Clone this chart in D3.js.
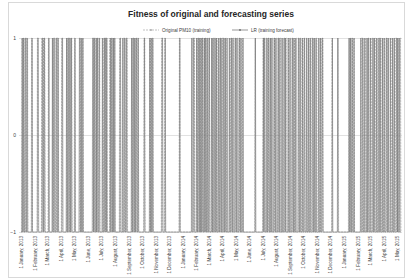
<!DOCTYPE html>
<html>
<head>
<meta charset="utf-8">
<style>
  body { margin: 0; background: #fff; }
  svg { display: block; font-family: "Liberation Sans", Arial, sans-serif; }
</style>
</head>
<body>
<svg width="406" height="280"></svg>
<script src="https://cdn.jsdelivr.net/npm/d3@7/dist/d3.min.js"></script>
<script>
    // first day of the training series, number of daily points
    var startDate = new Date(2013, 0, 1),
        nDays = 860;

    // periods where the class is +1, as [first day, day it drops back] (day 0 = 1 Jan 2013)
    var origHigh = [
        [2,3],[5,7],[9,10],[13,16],[24,26],[37,39],[47,49],[51,52],[53,55],[62,64],[72,73],[75,77],[79,80],[82,85],
        [92,94],[104,105],[107,109],[111,112],[113,116],[121,123],[133,135],[137,138],[139,141],
        [163,165],[166,167],[169,171],[173,174],[176,179],[185,187],[189,190],[192,195],[201,202],[204,206],
        [208,209],[210,213],[223,225],[231,233],[235,236],[238,241],[251,252],[254,256],[258,259],[261,263],
        [264,266],[278,281],[292,293],[295,296],[297,299],
        [318,320],[325,327],[358,360],
        [387,389],[391,393],[398,399],[401,403],[405,406],[408,410],[411,412],[414,416],[418,419],[422,424],
        [426,427],[432,433],[435,437],[439,440],[443,444],[446,448],[451,452],[455,457],[459,460],[463,465],
        [472,474],[476,477],[480,482],[485,486],[489,491],[494,495],[498,499],[501,502],
        [529,530],
        [547,549],[551,552],[555,557],[560,561],[563,564],[568,570],[573,574],[577,579],[582,583],[586,588],
        [591,592],[594,595],[599,601],[605,606],[609,611],[614,615],[618,619],[622,624],[628,629],[632,634],
        [637,638],[641,642],[645,647],[651,652],[655,657],[660,661],[664,665],[668,670],[674,675],[678,680],[682,683],
        [703,704],[717,718],[741,742],[744,746],[749,750],[752,754],
        [769,771],[773,774],[778,780],[783,784],[786,787],[791,793],[796,797],[800,802],[805,806],[808,809],
        [813,815],[818,819],[822,824],[827,828],[831,832],[836,838],[841,842],[845,847],[850,851],[853,854],[857,859]
    ];
    var lrHigh = [
        [3,4],[6,7],[10,12],[14,15],[25,26],[38,40],[48,50],[52,54],[63,64],[71,72],[74,76],[80,82],[84,85],
        [93,95],[103,104],[106,108],[110,112],[114,115],[122,123],[132,134],[136,137],[140,141],
        [162,164],[165,167],[170,171],[172,174],[177,178],[184,185],[188,190],[191,193],[194,195],[202,203],
        [205,207],[209,210],[212,213],[224,226],[230,231],[234,236],[239,240],[250,251],[253,255],[257,258],
        [260,262],[265,266],[279,280],[291,292],[294,295],[298,299],
        [319,321],[326,327],[359,360],
        [386,387],[390,392],[397,398],[400,402],[404,405],[407,408],[410,412],[415,416],[417,419],[421,422],
        [425,427],[431,432],[434,435],[438,440],[442,443],[447,448],[450,452],[454,455],[458,460],[462,463],
        [466,467],[471,472],[475,477],[479,480],[484,486],[488,489],[493,495],[497,498],[502,503],
        [530,531],
        [548,549],[550,552],[556,557],[559,561],[564,565],[567,568],[572,574],[576,577],[581,583],[585,586],
        [590,591],[595,597],[598,599],[604,605],[608,609],[613,615],[617,618],[621,622],[627,629],[631,632],
        [636,637],[640,642],[646,647],[650,651],[654,655],[659,661],[663,664],[667,668],[673,674],[677,678],[681,683],
        [704,705],[716,717],[742,743],[745,746],[748,750],[753,754],
        [768,769],[772,774],[777,778],[782,783],[785,787],[790,791],[795,797],[799,800],[804,805],[809,811],
        [812,813],[817,818],[821,822],[826,828],[830,831],[835,836],[840,841],[844,845],[849,851],[852,853],[856,857]
    ];

    // month labels along the axis
    var tickMonths = [
        "2013-01","2013-02","2013-03","2013-04","2013-05","2013-06","2013-07","2013-08","2013-09","2013-10",
        "2013-11","2013-12","2014-01","2014-02","2014-03","2014-04","2014-05","2014-06","2014-07","2014-08",
        "2014-09","2014-10","2014-11","2014-12","2015-01","2015-02","2015-03","2015-04","2015-05"
    ];
    var yTicks = [1, 0, -1];
    var seriesNames = ["Original PM10 (training)", "LR (training forecast)"];
    var seriesColors = ["#a6a6a6", "#6a6a6a"];

    var svg = d3.select("svg"),
        width = +svg.attr("width"),
        height = +svg.attr("height");

    var plotL = 21, plotR = 401, plotT = 38, plotB = 232;

    function expand(highs) {
        var vals = [];
        for (var i = 0; i < nDays; i++) vals.push(-1);
        highs.forEach(function(h) {
            for (var d = h[0]; d < h[1]; d++) vals[d] = 1;
        });
        return vals.map(function(v, i) {
            return [d3.timeDay.offset(startDate, i), v];
        });
    }

    var orig = expand(origHigh),
        lr = expand(lrHigh);

    var x = d3.scaleTime()
        .domain([startDate, d3.timeDay.offset(startDate, nDays - 1)])
        .range([plotL, plotR]);
    var y = d3.scaleLinear().domain([-1, 1]).range([plotB, plotT]);

    // chart border
    svg.append("rect")
        .attr("x", 8.5).attr("y", 2.5)
        .attr("width", 396).attr("height", 275)
        .attr("fill", "none").attr("stroke", "#d9d9d9");

    svg.append("text")
        .attr("x", 211).attr("y", 17)
        .attr("text-anchor", "middle")
        .style("font-size", "8.5px").style("font-weight", "bold")
        .attr("fill", "#262626")
        .text("Fitness of original and forecasting series");

    // gridlines
    svg.append("g").selectAll("line").data(yTicks).enter().append("line")
        .attr("x1", plotL - 2).attr("x2", plotR + 1)
        .attr("y1", function(d) { return y(d) + 0.5; })
        .attr("y2", function(d) { return y(d) + 0.5; })
        .attr("stroke", "#d9d9d9").attr("stroke-width", 0.8);

    var yAxis = svg.append("g")
        .attr("transform", "translate(" + (plotL - 3) + ",0)")
        .call(d3.axisLeft(y).tickValues(yTicks).tickSize(0).tickPadding(2).tickFormat(d3.format("d")));
    yAxis.select(".domain").remove();
    yAxis.selectAll("text").style("font-size", "5px").attr("fill", "#404040");

    var line = d3.line()
        .x(function(d) { return x(d[0]); })
        .y(function(d) { return y(d[1]); });

    svg.append("path")
        .attr("d", line(orig))
        .attr("fill", "none")
        .attr("stroke", seriesColors[0])
        .attr("stroke-width", 0.6)
        .attr("stroke-dasharray", "2,1");

    svg.append("path")
        .attr("d", line(lr))
        .attr("fill", "none")
        .attr("stroke", seriesColors[1])
        .attr("stroke-width", 0.5);

    // x axis labels
    var parseMonth = d3.timeParse("%Y-%m");
    var fmt = d3.timeFormat("%-d %B, %Y");
    var xAxis = svg.append("g")
        .attr("transform", "translate(0," + (plotB + 3) + ")")
        .call(d3.axisBottom(x).tickValues(tickMonths.map(parseMonth)).tickSize(0).tickFormat(fmt));
    xAxis.select(".domain").remove();
    xAxis.selectAll("text")
        .style("font-size", "4.6px")
        .attr("fill", "#404040")
        .attr("text-anchor", "end")
        .attr("transform", "rotate(-90)")
        .attr("x", -1).attr("y", 0).attr("dy", "0.35em");

    // legend
    var legend = svg.append("g").attr("transform", "translate(0,30)");
    var lx = [143, 232];
    seriesNames.forEach(function(name, i) {
        var g = legend.append("g").attr("transform", "translate(" + lx[i] + ",0)");
        g.append("line").attr("x1", 0).attr("x2", 16).attr("y1", 0).attr("y2", 0)
            .attr("stroke", seriesColors[i]).attr("stroke-width", 0.7)
            .attr("stroke-dasharray", i == 0 ? "2,1" : null);
        g.append("circle").attr("cx", 8).attr("cy", 0).attr("r", 0.9)
            .attr("fill", seriesColors[i]);
        g.append("text").attr("x", 19).attr("y", 0).attr("dy", "0.35em")
            .style("font-size", "4.6px").attr("fill", "#404040").text(name);
    });
</script>
</body>
</html>
